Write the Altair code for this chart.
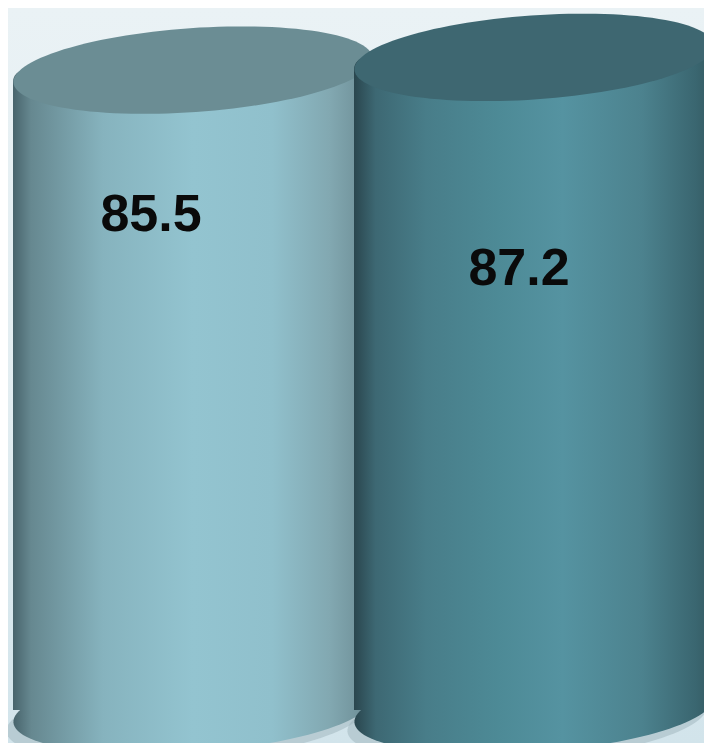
import math
import altair as alt
import pandas as pd

# ---- data ----
categories = ["A", "B"]
values = [85.5, 87.2]
labels = ["85.5", "87.2"]

df = pd.DataFrame({"cat": categories, "value": values, "label": labels})

W, H = 696, 735


def grad(stops, x1=0, y1=0, x2=1, y2=0):
    return alt.Gradient(
        gradient="linear",
        stops=[alt.GradientStop(offset=o, color=c) for o, c in stops],
        x1=x1, y1=y1, x2=x2, y2=y2,
    )


def ellipse_path(a, b, deg, n=120):
    t = math.radians(deg)
    pts = []
    for i in range(n):
        u = 2 * math.pi * i / n
        x = a * math.cos(u)
        y = b * math.sin(u)
        xr = x * math.cos(t) + y * math.sin(t)
        yr = -x * math.sin(t) + y * math.cos(t)
        pts.append(f"{xr:.4f} {yr:.4f}")
    return "M " + " L ".join(pts) + " Z"


ELL = ellipse_path(1.0, 42 / 180, 4)
ELL_SIZE = 360 * 360

left_body = grad([
    (0.0, "#48646c"), (0.05, "#668890"), (0.25, "#86b3be"), (0.5, "#93c4d0"),
    (0.72, "#90c0cc"), (0.88, "#82a8b1"), (1.0, "#6a8a92"),
])
right_body = grad([
    (0.0, "#2a464e"), (0.06, "#3d6873"), (0.2, "#487d89"), (0.4, "#4d8a96"),
    (0.58, "#5593a1"), (0.8, "#4c828e"), (0.95, "#3a6670"), (1.0, "#33585f"),
])
top_colors = {"A": "#6b8d94", "B": "#3e6771"}
bodies = {"A": left_body, "B": right_body}
label_offsets = {"A": (-42, 145), "B": (-15, 212)}

x_enc = alt.X(
    "cat:N", axis=None,
    scale=alt.Scale(range=[14.5, 696.5], paddingInner=0, paddingOuter=0),
)
y_scale = alt.Scale(domain=[0, 93.8], range=[702, 0], nice=False, zero=True)

base = alt.Chart(df)

bg = alt.Chart(alt.Data(values=[{"k": 1}])).mark_rect(
    fill=grad([(0, "#eaf2f5"), (0.55, "#e2edf1"), (1, "#d2e4eb")], x1=0, y1=0, x2=0, y2=1),
    strokeWidth=0,
).encode(x=alt.value(0), x2=alt.value(W), y=alt.value(0), y2=alt.value(H))

layers = [bg]

for cat in categories:
    sub = base.transform_filter(alt.datum.cat == cat)
    shadow = sub.mark_point(
        shape=ELL, size=ELL_SIZE, filled=True, fill="#9db3bb", opacity=0.5,
        strokeWidth=0, xOffset=-7, yOffset=9,
    ).encode(x=x_enc, y=alt.Y("zero:Q", scale=y_scale, axis=None)).transform_calculate(zero="0")
    bottom = sub.mark_point(
        shape=ELL, size=ELL_SIZE, filled=True, fill=bodies[cat], opacity=1, strokeWidth=0,
    ).encode(x=x_enc, y=alt.Y("zero:Q", scale=y_scale, axis=None)).transform_calculate(zero="0")
    body = sub.mark_bar(
        fill=bodies[cat], size=360, strokeWidth=0, y2Offset=12,
        cornerRadiusTopLeft=12,
    ).encode(x=x_enc, y=alt.Y("value:Q", scale=y_scale, axis=None))
    top = sub.mark_point(
        shape=ELL, size=ELL_SIZE, filled=True, fill=top_colors[cat], opacity=1, strokeWidth=0,
    ).encode(x=x_enc, y=alt.Y("value:Q", scale=y_scale, axis=None))
    layers += [shadow, bottom, body, top]

for cat in categories:
    dx, dy = label_offsets[cat]
    txt = base.transform_filter(alt.datum.cat == cat).mark_text(
        font="Liberation Sans", fontSize=52, fontWeight="bold", color="#0a0a0a",
        dx=dx, dy=dy, align="center", baseline="middle",
    ).encode(x=x_enc, y=alt.Y("value:Q", scale=y_scale, axis=None), text="label:N")
    layers.append(txt)

chart = alt.layer(*layers).properties(
    width=W, height=H, padding=0,
    autosize=alt.AutoSizeParams(type="none"),
    background="#e6eff3",
).configure_view(stroke=None)

chart.save("out.html", embed_options={"renderer": "svg", "actions": False})
